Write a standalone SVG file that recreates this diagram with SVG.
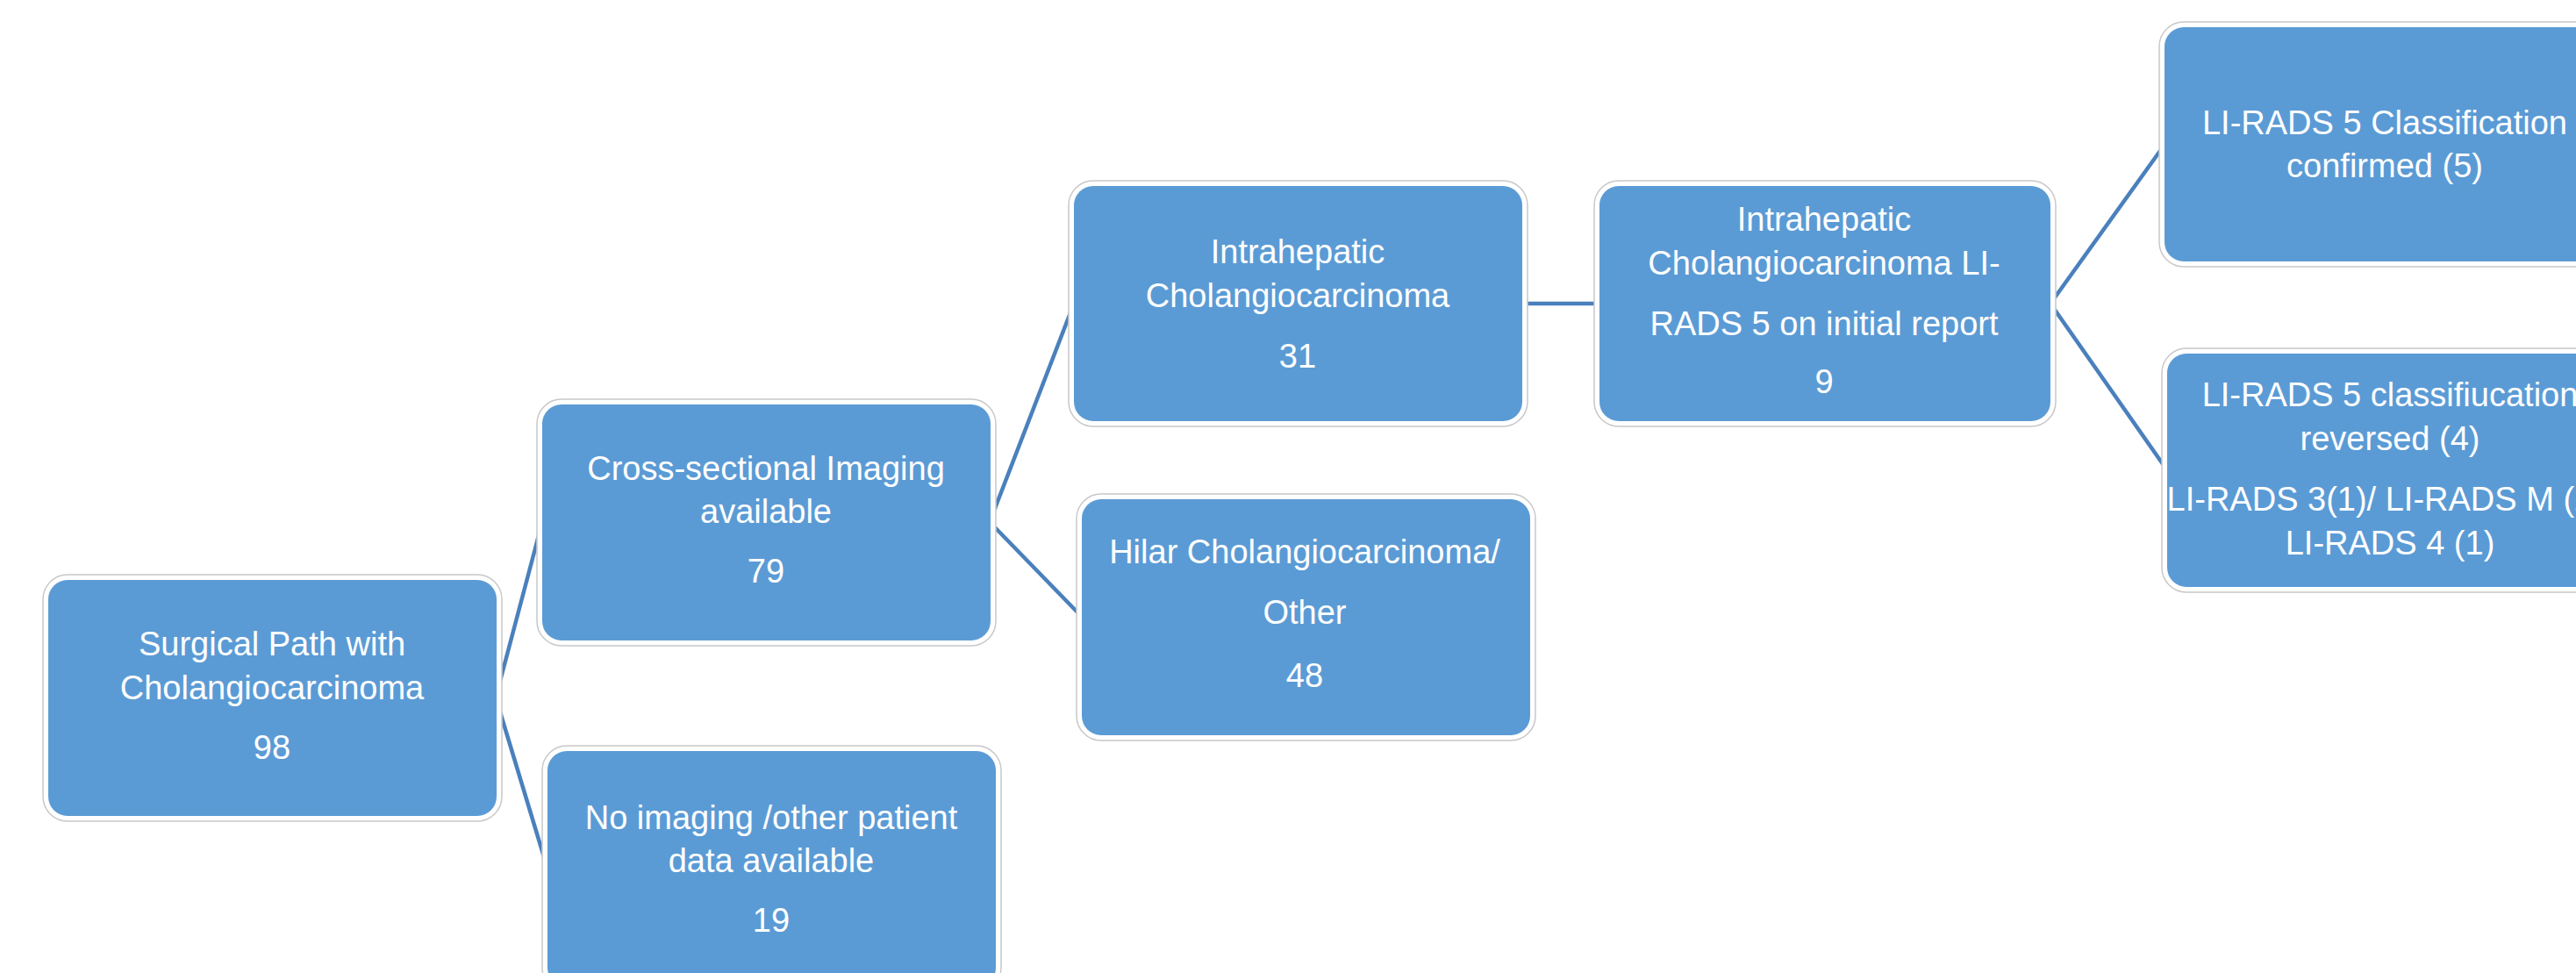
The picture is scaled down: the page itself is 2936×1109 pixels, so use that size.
<svg xmlns="http://www.w3.org/2000/svg" width="2936" height="1109" viewBox="0 0 2936 1109">
<style>
.ring{fill:#FFFFFF;stroke:#C8C8C8;stroke-width:1.5}
.box{fill:#5B9BD5}
.t{font-family:"Liberation Sans",Arial,sans-serif;font-size:38px;fill:#FFFFFF;text-anchor:middle}
.c{stroke:#4A80BC;stroke-width:4.5;fill:none}
</style>
<rect width="2936" height="1109" fill="#FFFFFF"/>
<g id="connectors">
<line class="c" x1="565" y1="795" x2="618" y2="595"/>
<line class="c" x1="565" y1="795" x2="624" y2="990"/>
<line class="c" x1="1128" y1="595" x2="1224" y2="346"/>
<line class="c" x1="1128" y1="595" x2="1233" y2="703"/>
<line class="c" x1="1735" y1="346" x2="1823" y2="346"/>
<line class="c" x1="2337" y1="346" x2="2467" y2="165"/>
<line class="c" x1="2337" y1="346" x2="2470" y2="536"/>
</g>
<g id="n1">
<rect class="ring" x="49" y="655" width="523" height="281" rx="28"/>
<rect class="box" x="55" y="661" width="511" height="269" rx="22"/>
<text class="t" x="310" y="747">Surgical Path with</text>
<text class="t" x="310" y="797">Cholangiocarcinoma</text>
<text class="t" x="310" y="865">98</text>
</g>
<g id="n2">
<rect class="ring" x="612" y="455" width="523" height="281" rx="28"/>
<rect class="box" x="618" y="461" width="511" height="269" rx="22"/>
<text class="t" x="873" y="547">Cross-sectional Imaging</text>
<text class="t" x="873" y="596">available</text>
<text class="t" x="873" y="664">79</text>
</g>
<g id="n3">
<rect class="ring" x="618" y="850" width="523" height="281" rx="28"/>
<rect class="box" x="624" y="856" width="511" height="269" rx="22"/>
<text class="t" x="879" y="945">No imaging /other patient</text>
<text class="t" x="879" y="994">data available</text>
<text class="t" x="879" y="1062">19</text>
</g>
<g id="n4">
<rect class="ring" x="1218" y="206" width="523" height="280" rx="28"/>
<rect class="box" x="1224" y="212" width="511" height="268" rx="22"/>
<text class="t" x="1479" y="300">Intrahepatic</text>
<text class="t" x="1479" y="350">Cholangiocarcinoma</text>
<text class="t" x="1479" y="419">31</text>
</g>
<g id="n5">
<rect class="ring" x="1227" y="563" width="523" height="281" rx="28"/>
<rect class="box" x="1233" y="569" width="511" height="269" rx="22"/>
<text class="t" x="1487" y="642">Hilar Cholangiocarcinoma/</text>
<text class="t" x="1487" y="711">Other</text>
<text class="t" x="1487" y="783">48</text>
</g>
<g id="n6">
<rect class="ring" x="1817" y="206" width="526" height="280" rx="28"/>
<rect class="box" x="1823" y="212" width="514" height="268" rx="22"/>
<text class="t" x="2079" y="263">Intrahepatic</text>
<text class="t" x="2079" y="313">Cholangiocarcinoma LI-</text>
<text class="t" x="2079" y="382">RADS 5 on initial report</text>
<text class="t" x="2079" y="448">9</text>
</g>
<g id="n7">
<rect class="ring" x="2461" y="25" width="523" height="279" rx="28"/>
<rect class="box" x="2467" y="31" width="511" height="267" rx="22"/>
<text class="t" x="2718" y="153">LI-RADS 5 Classification</text>
<text class="t" x="2718" y="202">confirmed (5)</text>
</g>
<g id="n8">
<rect class="ring" x="2464" y="397" width="523" height="278" rx="28"/>
<rect class="box" x="2470" y="403" width="511" height="266" rx="22"/>
<text class="t" x="2724" y="463">LI-RADS 5 classifiucation</text>
<text class="t" x="2724" y="513">reversed (4)</text>
<text class="t" x="2724" y="582">LI-RADS 3(1)/ LI-RADS M (2)/</text>
<text class="t" x="2724" y="632">LI-RADS 4 (1)</text>
</g>
</svg>
